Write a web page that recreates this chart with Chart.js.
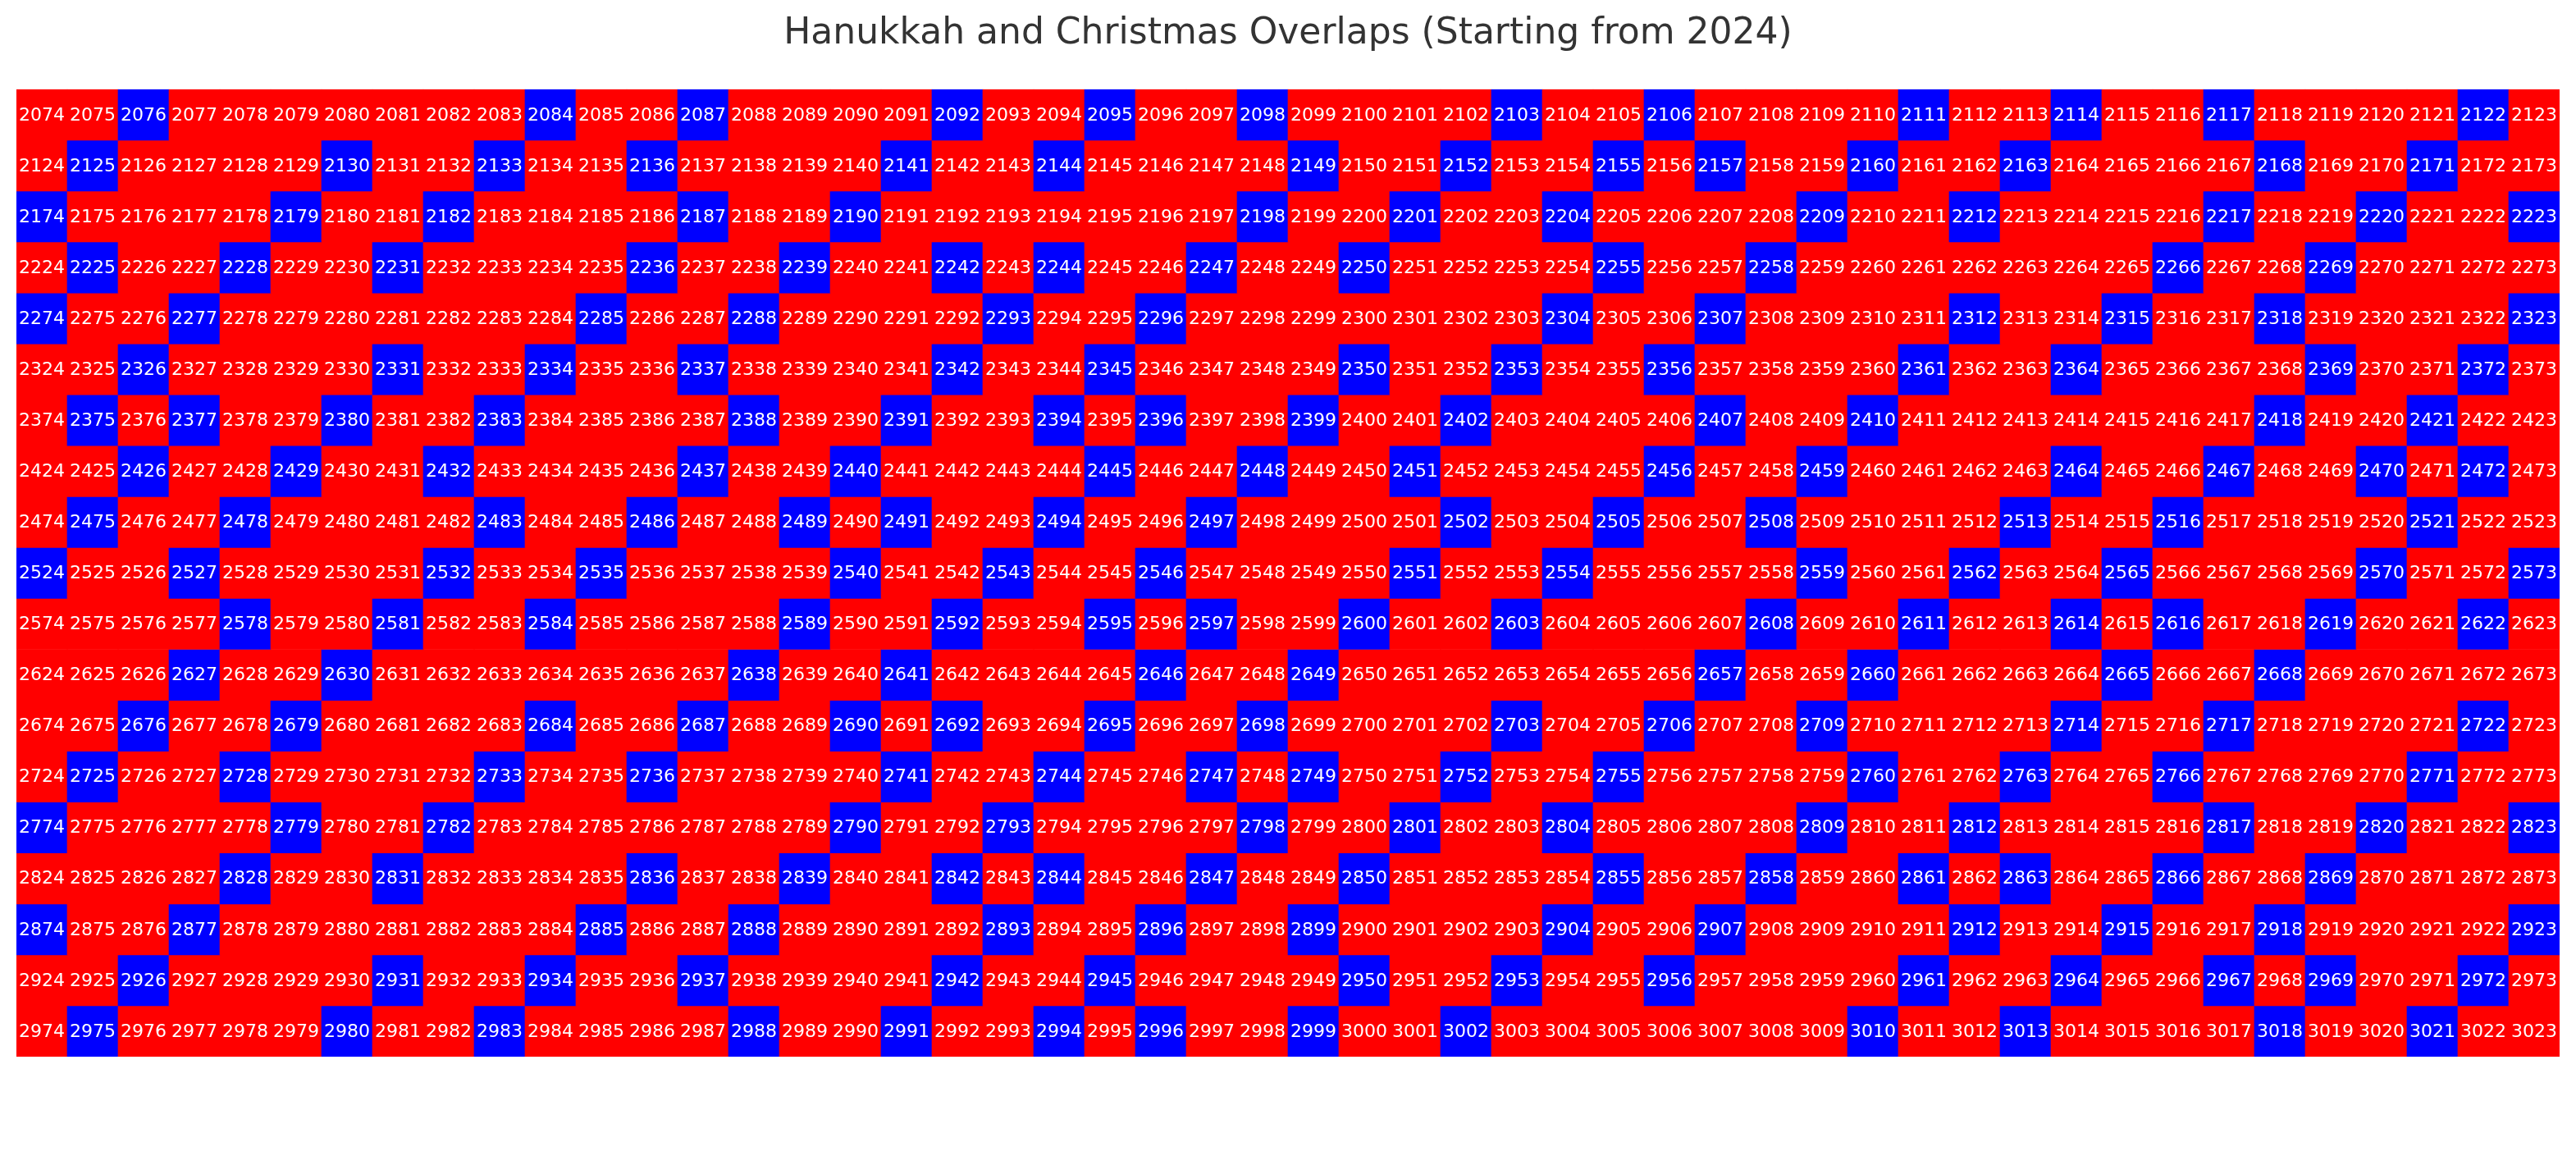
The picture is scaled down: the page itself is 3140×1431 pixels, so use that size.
<!DOCTYPE html>
<html>
<head>
<meta charset="utf-8">
<script src="https://cdn.jsdelivr.net/npm/chart.js@4/dist/chart.umd.min.js"></script>
<style>
  html, body { margin: 0; padding: 0; background: #ffffff; }
  canvas { display: block; }
</style>
</head>
<body>
<canvas id="c" width="3140" height="1431" style="width:3140px;height:1431px"></canvas>
<script>
// ---- Data ----
const titleText = 'Hanukkah and Christmas Overlaps (Starting from 2024)';
// first year of each row (19 rows, 50 years per row)
const rowStarts = [2074, 2124, 2174, 2224, 2274, 2324, 2374, 2424, 2474, 2524,
                   2574, 2624, 2674, 2724, 2774, 2824, 2874, 2924, 2974];
// column offsets within a row
const columnOffsets = [0,1,2,3,4,5,6,7,8,9,10,11,12,13,14,15,16,17,18,19,
                       20,21,22,23,24,25,26,27,28,29,30,31,32,33,34,35,36,37,38,39,
                       40,41,42,43,44,45,46,47,48,49];
// years shown in blue (Hanukkah overlaps Christmas)
const overlapYears = [
  2076, 2084, 2087, 2092, 2095, 2098, 2103, 2106, 2111, 2114, 2117, 2122,
  2125, 2130, 2133, 2136, 2141, 2144, 2149, 2152, 2155, 2157, 2160, 2163, 2168, 2171,
  2174, 2179, 2182, 2187, 2190, 2198, 2201, 2204, 2209, 2212, 2217, 2220, 2223,
  2225, 2228, 2231, 2236, 2239, 2242, 2244, 2247, 2250, 2255, 2258, 2266, 2269,
  2274, 2277, 2285, 2288, 2293, 2296, 2304, 2307, 2312, 2315, 2318, 2323,
  2326, 2331, 2334, 2337, 2342, 2345, 2350, 2353, 2356, 2361, 2364, 2369, 2372,
  2375, 2377, 2380, 2383, 2388, 2391, 2394, 2396, 2399, 2402, 2407, 2410, 2418, 2421,
  2426, 2429, 2432, 2437, 2440, 2445, 2448, 2451, 2456, 2459, 2464, 2467, 2470, 2472,
  2475, 2478, 2483, 2486, 2489, 2491, 2494, 2497, 2502, 2505, 2508, 2513, 2516, 2521,
  2524, 2527, 2532, 2535, 2540, 2543, 2546, 2551, 2554, 2559, 2562, 2565, 2570, 2573,
  2578, 2581, 2584, 2589, 2592, 2595, 2597, 2600, 2603, 2608, 2611, 2614, 2616, 2619, 2622,
  2627, 2630, 2638, 2641, 2646, 2649, 2657, 2660, 2665, 2668,
  2676, 2679, 2684, 2687, 2690, 2692, 2695, 2698, 2703, 2706, 2709, 2714, 2717, 2722,
  2725, 2728, 2733, 2736, 2741, 2744, 2747, 2749, 2752, 2755, 2760, 2763, 2766, 2771,
  2774, 2779, 2782, 2790, 2793, 2798, 2801, 2804, 2809, 2812, 2817, 2820, 2823,
  2828, 2831, 2836, 2839, 2842, 2844, 2847, 2850, 2855, 2858, 2861, 2863, 2866, 2869,
  2874, 2877, 2885, 2888, 2893, 2896, 2899, 2904, 2907, 2912, 2915, 2918, 2923,
  2926, 2931, 2934, 2937, 2942, 2945, 2950, 2953, 2956, 2961, 2964, 2967, 2969, 2972,
  2975, 2980, 2983, 2988, 2991, 2994, 2996, 2999, 3002, 3010, 3013, 3018, 3021
];

// ---- Styles ----
const OVERLAP_COLOR = '#0000ff';
const NO_OVERLAP_COLOR = '#ff0000';
const overlapSet = new Set(overlapYears);

// each row is a stacked dataset; every cell is one unit tall
const datasets = rowStarts.map((start) => ({
  label: String(start),
  data: columnOffsets.map(() => 1),
  years: columnOffsets.map((off) => start + off),
  backgroundColor: columnOffsets.map((off) => overlapSet.has(start + off) ? OVERLAP_COLOR : NO_OVERLAP_COLOR),
  borderWidth: 0,
  barPercentage: 1.0,
  categoryPercentage: 1.0,
  stack: 'grid'
}));

const cellLabels = {
  id: 'cellLabels',
  afterDatasetsDraw(chart) {
    const ctx = chart.ctx;
    ctx.save();
    ctx.fillStyle = '#ffffff';
    ctx.font = '22px "DejaVu Sans"';
    ctx.textAlign = 'center';
    ctx.textBaseline = 'middle';
    chart.data.datasets.forEach((ds, di) => {
      const meta = chart.getDatasetMeta(di);
      meta.data.forEach((el, j) => {
        const p = el.getProps(['x', 'y', 'base'], true);
        ctx.fillText(String(ds.years[j]), p.x, (p.y + p.base) / 2 + 1);
      });
    });
    ctx.restore();
  }
};

new Chart(document.getElementById('c'), {
  type: 'bar',
  data: { labels: columnOffsets.map(String), datasets },
  options: {
    responsive: false,
    animation: false,
    devicePixelRatio: 1,
    layout: { padding: { left: 20, right: 20, top: 0, bottom: 143 } },
    plugins: {
      legend: { display: false },
      tooltip: { enabled: false },
      title: {
        display: true,
        text: titleText,
        color: '#333333',
        font: { family: '"DejaVu Sans"', size: 44, weight: 'normal' },
        padding: { top: 15, bottom: 41 }
      }
    },
    scales: {
      x: { display: false, stacked: true },
      y: { display: false, stacked: true, min: 0, max: rowStarts.length, reverse: true }
    }
  },
  plugins: [cellLabels]
});
</script>
</body>
</html>
